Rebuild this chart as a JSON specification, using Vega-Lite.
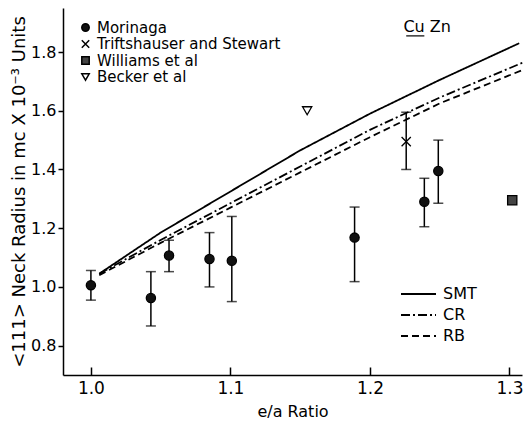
{
  "$schema": "https://vega.github.io/schema/vega-lite/v6.json",
  "width": 459,
  "height": 367,
  "autosize": "none",
  "padding": {"left": 63, "top": 8, "right": 4, "bottom": 48},
  "background": "white",
  "config": {
    "view": {"stroke": null},
    "font": "DejaVu Sans",
    "axis": {"grid": false, "domainColor": "black", "domainWidth": 1.5, "tickColor": "black", "tickWidth": 1.5, "labelColor": "black", "titleColor": "black", "labelFont": "DejaVu Sans", "titleFont": "DejaVu Sans", "titleFontWeight": "normal"},
    "legend": {"labelFont": "DejaVu Sans", "labelColor": "black", "labelLimit": 400}
  },
  "datasets": {
    "lines": [
      {"model": "SMT", "x": 1.006, "y": 1.045},
      {"model": "SMT", "x": 1.05, "y": 1.185},
      {"model": "SMT", "x": 1.1, "y": 1.325},
      {"model": "SMT", "x": 1.15, "y": 1.465},
      {"model": "SMT", "x": 1.2, "y": 1.59},
      {"model": "SMT", "x": 1.25, "y": 1.705},
      {"model": "SMT", "x": 1.307, "y": 1.83},
      {"model": "CR", "x": 1.006, "y": 1.045},
      {"model": "CR", "x": 1.05, "y": 1.16},
      {"model": "CR", "x": 1.1, "y": 1.285},
      {"model": "CR", "x": 1.15, "y": 1.41},
      {"model": "CR", "x": 1.2, "y": 1.535},
      {"model": "CR", "x": 1.25, "y": 1.645},
      {"model": "CR", "x": 1.31, "y": 1.765},
      {"model": "RB", "x": 1.006, "y": 1.04},
      {"model": "RB", "x": 1.05, "y": 1.15},
      {"model": "RB", "x": 1.1, "y": 1.27},
      {"model": "RB", "x": 1.15, "y": 1.39},
      {"model": "RB", "x": 1.2, "y": 1.51},
      {"model": "RB", "x": 1.25, "y": 1.625},
      {"model": "RB", "x": 1.31, "y": 1.74}
    ],
    "points": [
      {"series": "Morinaga", "x": 1.0, "y": 1.006, "lo": 0.955, "hi": 1.056},
      {"series": "Morinaga", "x": 1.043, "y": 0.962, "lo": 0.867, "hi": 1.052},
      {"series": "Morinaga", "x": 1.056, "y": 1.107, "lo": 1.052, "hi": 1.159},
      {"series": "Morinaga", "x": 1.085, "y": 1.095, "lo": 1.0, "hi": 1.185},
      {"series": "Morinaga", "x": 1.101, "y": 1.089, "lo": 0.95, "hi": 1.24},
      {"series": "Morinaga", "x": 1.189, "y": 1.168, "lo": 1.018, "hi": 1.272},
      {"series": "Morinaga", "x": 1.239, "y": 1.29, "lo": 1.205, "hi": 1.37},
      {"series": "Morinaga", "x": 1.249, "y": 1.395, "lo": 1.285, "hi": 1.5},
      {"series": "Triftshauser and Stewart", "x": 1.226, "y": 1.495, "lo": 1.4, "hi": 1.595},
      {"series": "Williams et al", "x": 1.302, "y": 1.295},
      {"series": "Becker et al", "x": 1.155, "y": 1.6}
    ],
    "labels": [
      {"label": "Cu Zn", "x": 1.241, "y": 1.885}
    ],
    "underline": [
      {"x": 1.226, "x2": 1.239, "y": 1.855}
    ]
  },
  "layer": [
    {
      "data": {"name": "lines"},
      "mark": {"type": "line", "color": "black", "strokeWidth": 1.8},
      "encoding": {
        "x": {"field": "x", "type": "quantitative", "title": "e/a Ratio", "scale": {"domain": [0.98, 1.309], "nice": false, "zero": false},
          "axis": {"titleFontSize": 16, "titlePadding": 7, "values": [1.0, 1.1, 1.2, 1.3], "format": ".1f", "labelFontSize": 17, "tickSize": -8, "labelPadding": 13, "labelFlush": false}},
        "y": {"field": "y", "type": "quantitative", "title": "<111> Neck Radius in mc X 10⁻³ Units", "scale": {"domain": [0.7, 1.95], "nice": false, "zero": false},
          "axis": {"titleFontSize": 18, "titlePadding": 2, "values": [0.8, 0.9, 1.0, 1.1, 1.2, 1.3, 1.4, 1.5, 1.6, 1.7, 1.8], "labelExpr": "round(datum.value*10) % 2 == 0 ? format(datum.value, '.1f') : ''", "labelFontSize": 16, "tickSize": 5, "labelPadding": 2}},
        "strokeDash": {"field": "model", "type": "nominal",
          "scale": {"domain": ["SMT", "CR", "RB"], "range": [[1, 0], [9, 3, 2, 3], [7, 4]]},
          "legend": {"title": null, "orient": "none", "legendX": 335, "legendY": 278, "symbolType": "M-1,0L6,0", "symbolSize": 100, "symbolStrokeWidth": 1.8, "symbolStrokeColor": "black", "labelFontSize": 16, "rowPadding": 5, "labelOffset": 29}}
      }
    },
    {
      "data": {"name": "points"},
      "transform": [{"filter": "isValid(datum.lo)"}],
      "mark": {"type": "errorbar", "ticks": {"size": 10, "thickness": 1.5}, "color": "black", "thickness": 1.5},
      "encoding": {
        "x": {"field": "x", "type": "quantitative", "title": "e/a Ratio"},
        "y": {"field": "lo", "type": "quantitative", "title": "<111> Neck Radius in mc X 10⁻³ Units"},
        "y2": {"field": "hi"}
      }
    },
    {
      "data": {"name": "points"},
      "mark": {"type": "point", "stroke": "black", "strokeWidth": 1.3, "opacity": 1},
      "encoding": {
        "x": {"field": "x", "type": "quantitative", "title": "e/a Ratio"},
        "y": {"field": "y", "type": "quantitative", "title": "<111> Neck Radius in mc X 10⁻³ Units"},
        "shape": {"field": "series", "type": "nominal",
          "scale": {"domain": ["Morinaga", "Triftshauser and Stewart", "Williams et al", "Becker et al"], "range": ["circle", "M-1,-1L1,1M-1,1L1,-1", "square", "triangle-down"]},
          "legend": {"title": null, "orient": "none", "legendX": 15, "legendY": 12, "labelFontSize": 15, "rowPadding": 0.5, "labelOffset": 4, "symbolSize": 55,
            "encode": {"symbols": {"update": {"stroke": {"value": "black"}, "strokeWidth": {"value": 1.2}}}}}},
        "fill": {"field": "series", "type": "nominal",
          "scale": {"domain": ["Morinaga", "Triftshauser and Stewart", "Williams et al", "Becker et al"], "range": ["#111111", "white", "#444444", "white"]},
          "legend": {"title": null, "orient": "none", "legendX": 15, "legendY": 12, "labelFontSize": 15, "rowPadding": 0.5, "labelOffset": 4, "symbolSize": 55,
            "encode": {"symbols": {"update": {"stroke": {"value": "black"}, "strokeWidth": {"value": 1.2}}}}}},
        "size": {"value": 85}
      }
    },
    {
      "data": {"name": "labels"},
      "mark": {"type": "text", "fontSize": 16, "color": "black", "font": "DejaVu Sans"},
      "encoding": {
        "x": {"field": "x", "type": "quantitative", "title": "e/a Ratio"},
        "y": {"field": "y", "type": "quantitative", "title": "<111> Neck Radius in mc X 10⁻³ Units"},
        "text": {"field": "label"}
      }
    },
    {
      "data": {"name": "underline"},
      "mark": {"type": "rule", "color": "black", "strokeWidth": 1.2},
      "encoding": {
        "x": {"field": "x", "type": "quantitative", "title": "e/a Ratio"},
        "x2": {"field": "x2"},
        "y": {"field": "y", "type": "quantitative", "title": "<111> Neck Radius in mc X 10⁻³ Units"}
      }
    }
  ]
}
